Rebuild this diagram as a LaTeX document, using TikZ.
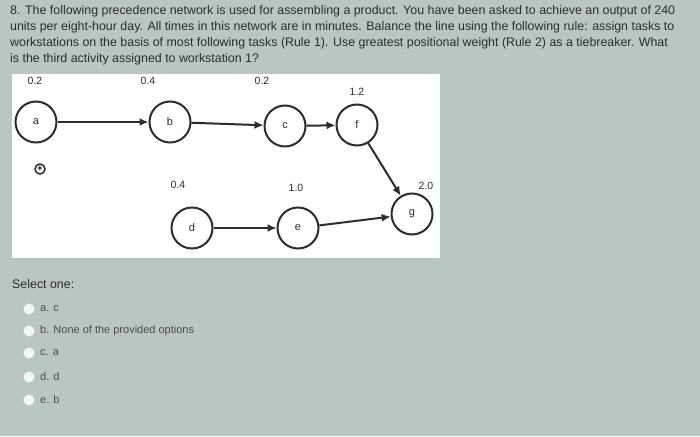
\documentclass[tikz,border=0pt]{standalone}
\usepackage{fontspec}
\setmainfont{Liberation Sans}
\usetikzlibrary{arrows.meta}
\definecolor{bg}{HTML}{B8C6C4}
\definecolor{ink}{HTML}{2A2E30}
\tikzset{
  nd/.style={circle,draw=ink,line width=2pt,fill=white,minimum size=41pt,inner sep=0pt,font=\fontsize{11}{12}\selectfont,text=ink},
  tm/.style={font=\fontsize{10.5}{12}\selectfont,text=ink},
  ar/.style={-{Latex[length=9pt,width=8pt]},line width=2pt,draw=ink},
  txt/.style={anchor=west,font=\fontsize{12.4}{14}\selectfont,text=ink,inner sep=0pt},
  opt/.style={anchor=west,font=\fontsize{11}{14}\selectfont,text=ink!85,inner sep=0pt},
  rad/.style={circle,fill=white!85!bg,minimum size=11pt,inner sep=0pt}
}
\begin{document}
\begin{tikzpicture}[x=1pt,y=-1pt]
\fill[bg] (0,0) rectangle (700,436);
\useasboundingbox (0,0) rectangle (700,436);
\node[txt] (l1) at (10,11) {8. The following precedence network is used for assembling a product. You have been asked to achieve an output of 240};
\node[txt] (l2) at (10,27) {units per eight-hour day. All times in this network are in minutes. Balance the line using the following rule: assign tasks to};
\node[txt] (l3) at (10,43) {workstations on the basis of most following tasks (Rule 1). Use greatest positional weight (Rule 2) as a tiebreaker. What};
\node[txt] (l4) at (10,59) {is the third activity assigned to workstation 1?};
\fill[white] (12,74) rectangle (440,258);
\node[nd] (a) at (36,122) {a};
\node[nd] (b) at (170,122) {b};
\node[nd] (c) at (285,126) {c};
\node[nd] (f) at (357,125) {f};
\node[nd] (d) at (192,228) {d};
\node[nd] (e) at (298,228) {e};
\node[nd] (g) at (412,214) {g};
\node[tm] (ta) at (35,81) {0.2};
\node[tm] (tb) at (148,81) {0.4};
\node[tm] (tc) at (262,81) {0.2};
\node[tm] (tf) at (357,92) {1.2};
\node[tm] (td) at (178,185) {0.4};
\node[tm] (te) at (296,188) {1.0};
\node[tm] (tg) at (426,186) {2.0};
\node[circle,draw=ink,line width=1.5pt,inner sep=0pt,minimum size=10pt,font=\fontsize{9}{9}\selectfont\bfseries] (plus) at (40,169) {+};
\draw[ar] (a) -- (b);
\draw[ar] (b) -- (c);
\draw[ar] (c) -- (f);
\draw[ar] (f) -- (g);
\draw[ar] (d) -- (e);
\draw[ar] (e) -- (g);
\node[txt] (sel) at (12,284) {Select one:};
\node[rad] (r1) at (29,309) {};
\node[opt] (o1) at (40,309) {a. c};
\node[rad] (r2) at (29,331) {};
\node[opt] (o2) at (40,331) {b. None of the provided options};
\node[rad] (r3) at (29,353) {};
\node[opt] (o3) at (40,353) {c. a};
\node[rad] (r4) at (29,377) {};
\node[opt] (o4) at (40,377) {d. d};
\node[rad] (r5) at (29,400) {};
\node[opt] (o5) at (40,400) {e. b};
\end{tikzpicture}
\end{document}
